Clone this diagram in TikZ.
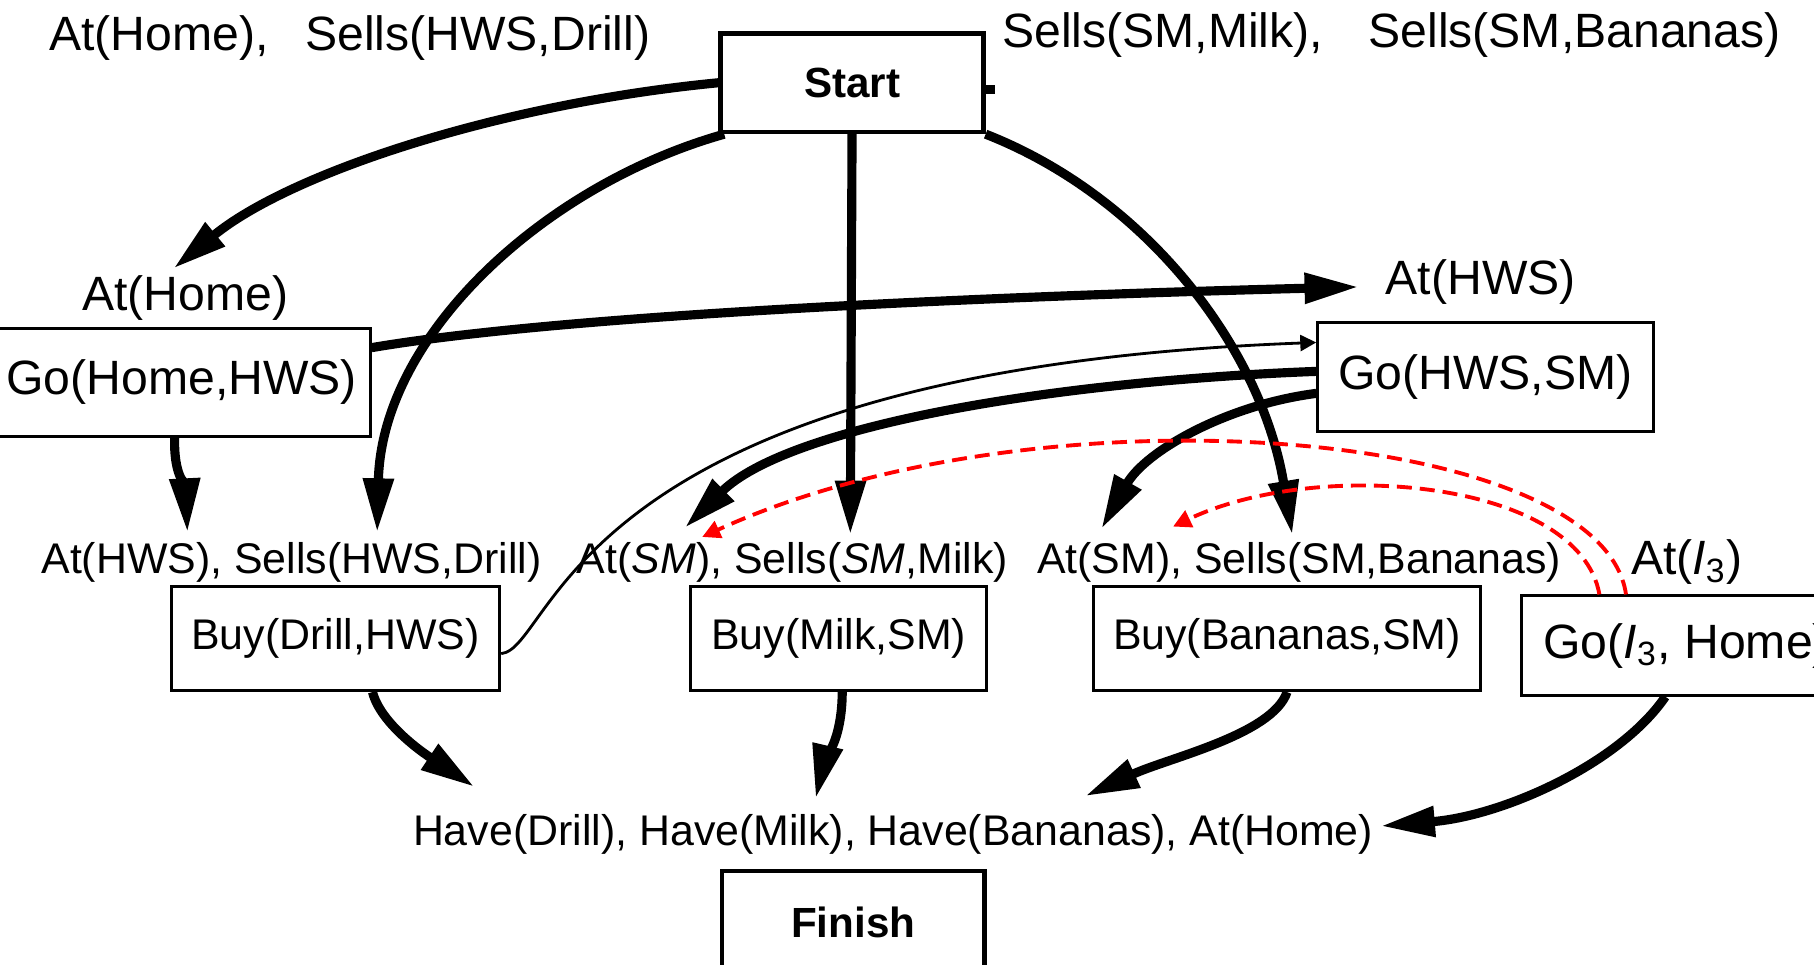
\documentclass[tikz,border=0pt]{standalone}
\usepackage{fontspec}
\setmainfont{Liberation Sans}
\usetikzlibrary{arrows.meta}
\newcommand{\bigfont}{\fontsize{13.7}{16}\selectfont}
\newcommand{\smallfont}{\fontsize{12.2}{14}\selectfont}
\begin{document}
\begin{tikzpicture}[x=0.11569mm, y=-0.11569mm,
	box/.style={draw, line width=0.8pt, inner sep=0pt},
	endbox/.style={draw, line width=1.3pt, inner sep=0pt, font=\fontsize{12}{14}\selectfont\bfseries},
	lbl/.style={inner sep=0pt, font=\bigfont},
	slbl/.style={inner sep=0pt, font=\smallfont},
	link/.style={line width=2.6pt, -{Triangle[length=5.4mm,width=2.9mm]}},
	thinlink/.style={line width=0.8pt, -{Triangle[length=1.6mm,width=1.6mm]}},
	threat/.style={red, line width=1.1pt, dash pattern=on 1.5mm off 0.8mm, -{Triangle[length=1.8mm,width=1.8mm]}}]
	\useasboundingbox (0,0) rectangle (1568,834);
	%Start and initial state
	\node[endbox, minimum width=2.626cm, minimum height=0.983cm] (start) at (736.5,71.5) {Start};
	\node[lbl, anchor=west] (init1) at (42,33) {At(Home),};
	\node[lbl] (init2) at (413,33) {Sells(HWS,Drill)};
	\node[lbl] (init3) at (1005,30) {Sells(SM,Milk),};
	\node[lbl] (init4) at (1361,30) {Sells(SM,Bananas)};
	%Steps
	\node[box, font=\bigfont, minimum width=3.771cm, minimum height=1.076cm] (gohome) at (157,330.5) {Go(Home,HWS)};
	\node[box, font=\bigfont, minimum width=3.355cm, minimum height=1.087cm] (gohws) at (1284,326) {Go(HWS,SM)};
	\node[box, font=\smallfont, minimum width=3.286cm, minimum height=1.041cm] (buydrill) at (290,552) {Buy(Drill,HWS)};
	\node[box, font=\smallfont, minimum width=2.962cm, minimum height=1.041cm] (buymilk) at (725,552) {Buy(Milk,SM)};
	\node[box, font=\smallfont, minimum width=3.876cm, minimum height=1.041cm] (buybananas) at (1112.5,552) {Buy(Bananas,SM)};
	\node[box, font=\bigfont, minimum width=3.297cm, minimum height=0.995cm] (gothree) at (1457.5,558) {Go(\textit{I}\textsubscript{3}, Home)};
	\node[endbox, minimum width=2.626cm, minimum height=1.018cm] (finish) at (737.5,797) {Finish};
	%Preconditions
	\node[lbl] (athome) at (160,258) {At(Home)};
	\node[lbl] (athws) at (1280,244) {At(HWS)};
	\node[slbl] (predrill) at (252,486) {At(HWS), Sells(HWS,Drill)};
	\node[slbl] (premilk) at (685,486) {At(\textit{SM}), Sells(\textit{SM},Milk)};
	\node[slbl] (prebananas) at (1123,486) {At(SM), Sells(SM,Bananas)};
	\node[lbl] (atthree) at (1458,486) {At(\textit{I}\textsubscript{3})};
	\node[slbl] (goal) at (772,721) {Have(Drill), Have(Milk), Have(Bananas), At(Home)};
	%Causal links
	\draw[line width=2.6pt] ([shift={(0,6)}]start.east) -- ++(8,0);
	\draw[link] (start.west) .. controls (430,90) and (250,150) .. ([shift={(-10,-6)}]athome.north);
	\draw[link] ([shift={(5,0)}]start.south west) .. controls (470,160) and (330,290) .. ([shift={(74,-8)}]predrill.north);
	\draw[link] (start.south) -- ([shift={(50,-6)}]premilk.north);
	\draw[link] (start.south east) .. controls (990,170) and (1090,300) .. ([shift={(-6,-6)}]prebananas.north);
	\draw[link] ([shift={(0,-30)}]gohome.east) .. controls (500,270) and (900,255) .. ([shift={(-23,4)}]athws.west);
	\draw[link] ([shift={(-6,0)}]gohome.south) .. controls (150,410) and (160,420) .. ([shift={(-90,-8)}]predrill.north);
	\draw[link] ([shift={(0,-5)}]gohws.west) .. controls (900,330) and (680,370) .. ([shift={(-93,-12)}]premilk.north);
	\draw[link] ([shift={(0,14)}]gohws.west) .. controls (1060,350) and (990,390) .. ([shift={(-171,-11)}]prebananas.north);
	\draw[thinlink] ([shift={(0,13)}]buydrill.east) .. controls (480,560) and (490,320) .. ([shift={(0,-30)}]gohws.west);
	\draw[link] ([shift={(32,0)}]buydrill.south) .. controls (330,630) and (380,660) .. ([shift={(-362,-23)}]goal.north);
	\draw[link] ([shift={(3,0)}]buymilk.south) .. controls (728,640) and (712,660) .. ([shift={(-67,-13)}]goal.north);
	\draw[link] (buybananas.south) .. controls (1100,635) and (1010,655) .. ([shift={(166,-15)}]goal.north);
	\draw[link] ([shift={(-18,0)}]gothree.south) .. controls (1400,660) and (1300,705) .. ([shift={(6,-7)}]goal.east);
	%Threats
	\draw[threat] ([shift={(-52,0)}]gothree.north) .. controls (1385,370) and (900,330) .. ([shift={(-78,-4)}]premilk.north);
	\draw[threat] ([shift={(-75,0)}]gothree.north) .. controls (1365,415) and (1140,395) .. ([shift={(-109,-13)}]prebananas.north);
\end{tikzpicture}
\end{document}
